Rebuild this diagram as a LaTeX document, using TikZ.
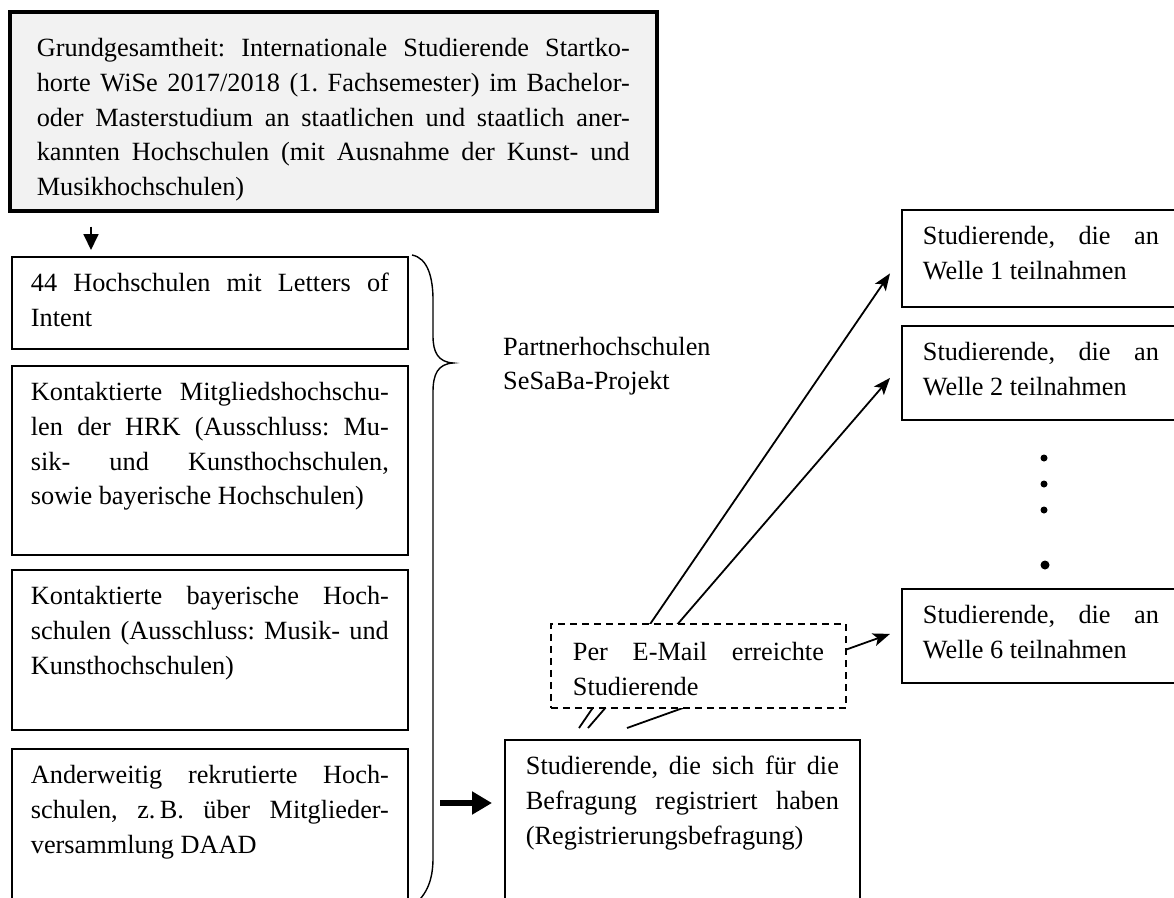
\documentclass[tikz,border=0pt]{standalone}
\usepackage{fontspec}
\setmainfont{Liberation Serif}
\usetikzlibrary{arrows.meta}

\definecolor{popfill}{HTML}{F2F2F2}

\tikzset{
  txt/.style={font=\fontsize{26.3}{34.6}\selectfont},
  cell/.style={txt,draw,line width=1.8pt,fill=white,anchor=north west,inner ysep=0pt,inner xsep=21pt,text height=35pt,text width=#1,align=justify},
  arr/.style={line width=1.8pt,-{Stealth[length=17pt,width=13pt,inset=4pt]}},
}

\begin{document}
\frenchspacing
\hyphenpenalty=10000
\exhyphenpenalty=10000
\tolerance=10000
\begin{tikzpicture}[x=1pt,y=-1pt]
\useasboundingbox (0,0) rectangle (1174,897);

% population
\node[cell=593pt,fill=popfill,line width=3.6pt,inner xsep=27pt,text height=45pt,text depth=154pt] (pop) at (8,10)
  {Grundgesamtheit: Internationale Studierende Startko-\linebreak horte WiSe 2017/2018 (1.~Fachsemester) im Bachelor-\linebreak oder Masterstudium an staatlichen und staatlich aner-\linebreak kannten Hochschulen (mit Ausnahme der Kunst- und\linebreak Musikhochschulen)};

% Hochschulen
\node[cell=358pt,inner xsep=19pt,text depth=57pt]  (hs1) at (11,256) {44 Hochschulen mit Letters of\linebreak Intent};
\node[cell=358pt,inner xsep=19pt,text depth=154pt] (hs2) at (11,365) {Kontaktierte Mitgliedshochschu-\linebreak len der HRK (Ausschluss: Mu-\linebreak sik- und Kunsthochschulen,\linebreak sowie bayerische Hochschulen)};
\node[cell=358pt,inner xsep=19pt,text depth=125pt] (hs3) at (11,569) {Kontaktierte bayerische Hoch-\linebreak schulen (Ausschluss: Musik- und\linebreak Kunsthochschulen)};
\node[cell=358pt,inner xsep=19pt,text depth=160pt] (hs4) at (11,748) {Anderweitig rekrutierte Hoch-\linebreak schulen, z.\,B. über Mitglieder-\linebreak versammlung DAAD};

\draw[line width=1.8pt,-{Triangle[length=16pt,width=15pt]}] ([xshift=83pt,yshift=-14pt]pop.south west) -- ([xshift=80pt,yshift=6pt]hs1.north west);

% brace
\draw[line width=1.4pt] (412,255) .. controls (428,258) and (433,278) .. (433,300) -- (433,336)
  .. controls (433,352) and (438,362) .. (453,363) .. controls (438,364) and (433,374) .. (433,392)
  -- (433,858) .. controls (433,880) and (427,894) .. (414,905);

\node[txt,anchor=north west,inner sep=0pt,text height=35pt,text width=300pt,align=left] (partner) at (503,320) {Partnerhochschulen\\SeSaBa-Projekt};

% registration
\node[cell=313pt,text depth=170pt] (reg) at (504,739) {Studierende, die sich für die\linebreak Befragung registriert haben\linebreak (Registrierungsbefragung)};

\coordinate (b0) at (440,803);
\draw[line width=6pt,-{Triangle[length=20pt,width=22pt]},shorten >=12pt] (b0) -- (b0 -| reg.west);

% waves
\node[cell=236pt,text depth=62pt] (w1) at (901,209) {Studierende, die an\linebreak Welle 1 teilnahmen};
\node[cell=236pt,text depth=59pt] (w2) at (901,325) {Studierende, die an\linebreak Welle 2 teilnahmen};
\node[cell=236pt,text depth=59pt] (w6) at (901,588) {Studierende, die an\linebreak Welle 6 teilnahmen};

\foreach \y in {458,484,510} {
  \fill (1044,\y) circle (3.5pt);
}
\fill (1045,565) circle (4.5pt);

\coordinate (s1) at ([xshift=75pt,yshift=11pt]reg.north west);
\coordinate (s2) at ([xshift=84pt,yshift=11pt]reg.north west);
\coordinate (s3) at ([xshift=123pt,yshift=11pt]reg.north west);

\draw[arr] (s1) -- ([xshift=-11pt,yshift=-15pt]w1.west);
\draw[arr] (s2) -- ([xshift=-11pt,yshift=-5pt]w2.west);
\draw[arr] (s3) -- ([xshift=-11pt,yshift=2pt]w6.west);

% e-mail
\node[cell=251pt,dash pattern=on 7pt off 5pt,inner xsep=22pt,text height=37pt,text depth=47pt] (mail) at (550,623) {Per E-Mail erreichte\linebreak Studierende};

\end{tikzpicture}
\end{document}
